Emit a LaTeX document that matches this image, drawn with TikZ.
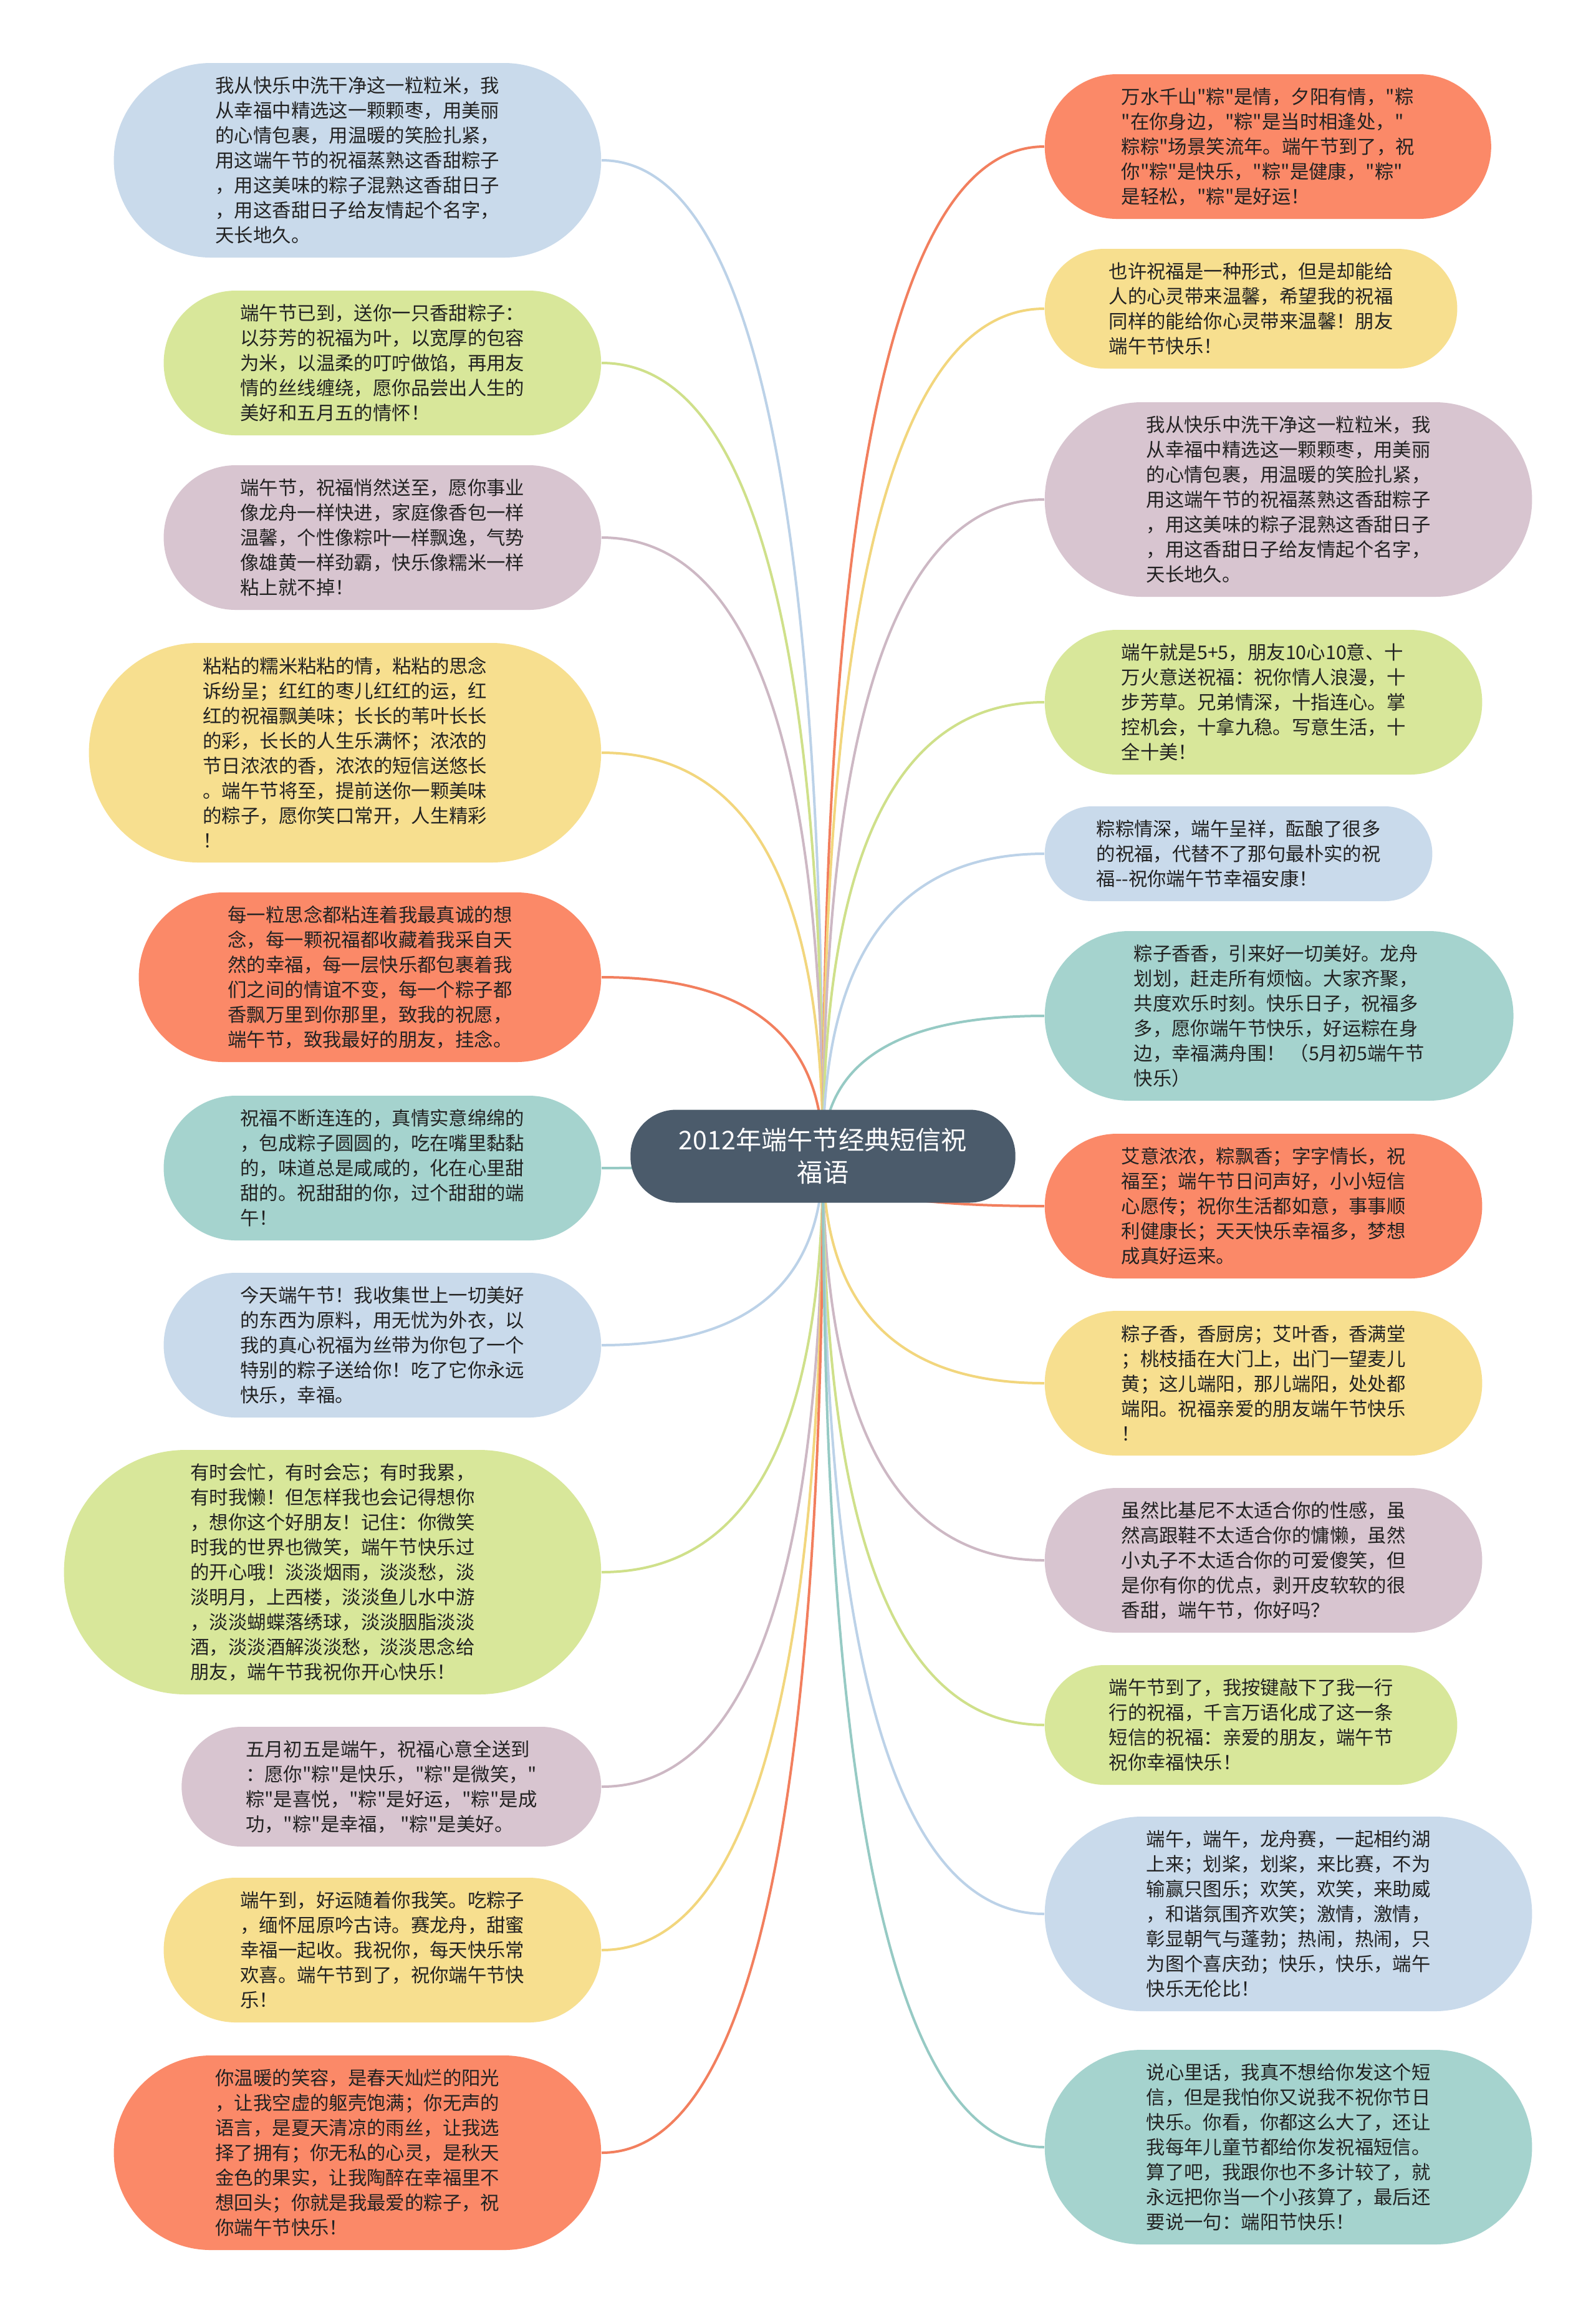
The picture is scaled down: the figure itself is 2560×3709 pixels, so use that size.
\documentclass[tikz,border=0pt]{standalone}
\usepackage{fontspec}
\newfontfamily\cjkfont{Noto Sans CJK SC}
\usetikzlibrary{calc}
\pgfdeclarelayer{bg}
\pgfsetlayers{bg,main}
\definecolor{cBlue}{HTML}{C9DAEB}
\definecolor{cGreen}{HTML}{D8E79A}
\definecolor{cMauve}{HTML}{D8C5D0}
\definecolor{cYellow}{HTML}{F7DF8F}
\definecolor{cOrange}{HTML}{FB8968}
\definecolor{cTeal}{HTML}{A5D3CE}
\definecolor{cCenter}{HTML}{4B5B6B}
\definecolor{lBlue}{HTML}{BCD2E8}
\definecolor{lGreen}{HTML}{CFE08A}
\definecolor{lMauve}{HTML}{CDB8C4}
\definecolor{lYellow}{HTML}{F2D67D}
\definecolor{lOrange}{HTML}{F27F5E}
\definecolor{lTeal}{HTML}{96CAC4}
\definecolor{txt}{HTML}{222222}
\newcommand\linkto[3]{%
  \draw[link,#1] (C.center) .. controls ($(C.center)!0.6667!(C.center|-#2.#3)$) and ($(#2.#3)!0.6667!(C.center|-#2.#3)$) .. (#2.#3);}
\begin{document}
\begin{tikzpicture}[x=0.25pt,y=-0.25pt,
  box/.style={rectangle, inner ysep=0pt, inner xsep={5pt*#1+5.7pt},
    minimum height={10pt*#1+8pt}, rounded corners={5pt*#1+3.9pt}, align=left,
    font=\cjkfont\fontsize{7.6}{10}\selectfont, text=txt},
  lbox/.style={box=#1, anchor=east},
  rbox/.style={box=#1, anchor=west},
  link/.style={line width=1pt},
  centerbox/.style={rectangle, inner xsep=19.4pt, inner ysep=0pt, minimum height=37.25pt,
    rounded corners=18.4pt, align=center,
    fill=cCenter, text=white, font=\cjkfont\fontsize{10.3}{13}\selectfont}]
\useasboundingbox (0,0) rectangle (2560,3709);

\node[centerbox] (C) at (1320,1854) {2012年端午节经典短信祝\\福语};

% left column
\node[lbox=7, fill=cBlue] (L1) at (965,257) {我从快乐中洗干净这一粒粒米，我\\从幸福中精选这一颗颗枣，用美丽\\的心情包裹，用温暖的笑脸扎紧，\\用这端午节的祝福蒸熟这香甜粽子\\，用这美味的粽子混熟这香甜日子\\，用这香甜日子给友情起个名字，\\天长地久。};
\node[lbox=5, fill=cGreen] (L2) at (965,582) {端午节已到，送你一只香甜粽子：\\以芬芳的祝福为叶，以宽厚的包容\\为米，以温柔的叮咛做馅，再用友\\情的丝线缠绕，愿你品尝出人生的\\美好和五月五的情怀！};
\node[lbox=5, fill=cMauve] (L3) at (965,862) {端午节，祝福悄然送至，愿你事业\\像龙舟一样快进，家庭像香包一样\\温馨，个性像粽叶一样飘逸，气势\\像雄黄一样劲霸，快乐像糯米一样\\粘上就不掉！};
\node[lbox=8, fill=cYellow] (L4) at (965,1207) {粘粘的糯米粘粘的情，粘粘的思念\\诉纷呈；红红的枣儿红红的运，红\\红的祝福飘美味；长长的苇叶长长\\的彩，长长的人生乐满怀；浓浓的\\节日浓浓的香，浓浓的短信送悠长\\。端午节将至，提前送你一颗美味\\的粽子，愿你笑口常开，人生精彩\\！};
\node[lbox=6, fill=cOrange] (L5) at (965,1567) {每一粒思念都粘连着我最真诚的想\\念，每一颗祝福都收藏着我采自天\\然的幸福，每一层快乐都包裹着我\\们之间的情谊不变，每一个粽子都\\香飘万里到你那里，致我的祝愿，\\端午节，致我最好的朋友，挂念。};
\node[lbox=5, fill=cTeal] (L6) at (965,1873) {祝福不断连连的，真情实意绵绵的\\，包成粽子圆圆的，吃在嘴里黏黏\\的，味道总是咸咸的，化在心里甜\\甜的。祝甜甜的你，过个甜甜的端\\午！};
\node[lbox=5, fill=cBlue] (L7) at (965,2157) {今天端午节！我收集世上一切美好\\的东西为原料，用无忧为外衣，以\\我的真心祝福为丝带为你包了一个\\特别的粽子送给你！吃了它你永远\\快乐，幸福。};
\node[lbox=9, fill=cGreen] (L8) at (965,2521) {有时会忙，有时会忘；有时我累，\\有时我懒！但怎样我也会记得想你\\，想你这个好朋友！记住：你微笑\\时我的世界也微笑，端午节快乐过\\的开心哦！淡淡烟雨，淡淡愁，淡\\淡明月，上西楼，淡淡鱼儿水中游\\，淡淡蝴蝶落绣球，淡淡胭脂淡淡\\酒，淡淡酒解淡淡愁，淡淡思念给\\朋友，端午节我祝你开心快乐！};
\node[lbox=4, fill=cMauve] (L9) at (965,2865) {五月初五是端午，祝福心意全送到\\：愿你"粽"是快乐，"粽"是微笑，"\\粽"是喜悦，"粽"是好运，"粽"是成\\功，"粽"是幸福， "粽"是美好。};
\node[lbox=5, fill=cYellow] (L10) at (965,3127) {端午到，好运随着你我笑。吃粽子\\，缅怀屈原吟古诗。赛龙舟，甜蜜\\幸福一起收。我祝你，每天快乐常\\欢喜。端午节到了，祝你端午节快\\乐！};
\node[lbox=7, fill=cOrange] (L11) at (965,3452) {你温暖的笑容，是春天灿烂的阳光\\，让我空虚的躯壳饱满；你无声的\\语言，是夏天清凉的雨丝，让我选\\择了拥有；你无私的心灵，是秋天\\金色的果实，让我陶醉在幸福里不\\想回头；你就是我最爱的粽子，祝\\你端午节快乐！};

% right column
\node[rbox=5, fill=cOrange] (R1) at (1675,235) {万水千山"粽"是情，夕阳有情，"粽\\"在你身边，"粽"是当时相逢处，"\\粽粽"场景笑流年。端午节到了，祝\\你"粽"是快乐，"粽"是健康，"粽"\\是轻松，"粽"是好运！};
\node[rbox=4, fill=cYellow] (R2) at (1675,495) {也许祝福是一种形式，但是却能给\\人的心灵带来温馨，希望我的祝福\\同样的能给你心灵带来温馨！朋友\\端午节快乐！};
\node[rbox=7, fill=cMauve] (R3) at (1675,801) {我从快乐中洗干净这一粒粒米，我\\从幸福中精选这一颗颗枣，用美丽\\的心情包裹，用温暖的笑脸扎紧，\\用这端午节的祝福蒸熟这香甜粽子\\，用这美味的粽子混熟这香甜日子\\，用这香甜日子给友情起个名字，\\天长地久。};
\node[rbox=5, fill=cGreen] (R4) at (1675,1126) {端午就是5+5，朋友10心10意、十\\万火意送祝福：祝你情人浪漫，十\\步芳草。兄弟情深，十指连心。掌\\控机会，十拿九稳。写意生活，十\\全十美！};
\node[rbox=3, fill=cBlue] (R5) at (1675,1369) {粽粽情深，端午呈祥，酝酿了很多\\的祝福，代替不了那句最朴实的祝\\福-\kern0pt-祝你端午节幸福安康！};
\node[rbox=6, fill=cTeal] (R6) at (1675,1629) {粽子香香，引来好一切美好。龙舟\\划划，赶走所有烦恼。大家齐聚，\\共度欢乐时刻。快乐日子，祝福多\\多，愿你端午节快乐，好运粽在身\\边，幸福满舟围！ （5月初5端午节\\快乐）};
\node[rbox=5, fill=cOrange] (R7) at (1675,1934) {艾意浓浓，粽飘香；字字情长，祝\\福至；端午节日问声好，小小短信\\心愿传；祝你生活都如意，事事顺\\利健康长；天天快乐幸福多，梦想\\成真好运来。};
\node[rbox=5, fill=cYellow] (R8) at (1675,2218) {粽子香，香厨房；艾叶香，香满堂\\；桃枝插在大门上，出门一望麦儿\\黄；这儿端阳，那儿端阳，处处都\\端阳。祝福亲爱的朋友端午节快乐\\！};
\node[rbox=5, fill=cMauve] (R9) at (1675,2502) {虽然比基尼不太适合你的性感，虽\\然高跟鞋不太适合你的慵懒，虽然\\小丸子不太适合你的可爱傻笑，但\\是你有你的优点，剥开皮软软的很\\香甜，端午节，你好吗？};
\node[rbox=4, fill=cGreen] (R10) at (1675,2766) {端午节到了，我按键敲下了我一行\\行的祝福，千言万语化成了这一条\\短信的祝福：亲爱的朋友，端午节\\祝你幸福快乐！};
\node[rbox=7, fill=cBlue] (R11) at (1675,3069) {端午，端午，龙舟赛，一起相约湖\\上来；划桨，划桨，来比赛，不为\\输赢只图乐；欢笑，欢笑，来助威\\，和谐氛围齐欢笑；激情，激情，\\彰显朝气与蓬勃；热闹，热闹，只\\为图个喜庆劲；快乐，快乐，端午\\快乐无伦比！};
\node[rbox=7, fill=cTeal] (R12) at (1675,3443) {说心里话，我真不想给你发这个短\\信，但是我怕你又说我不祝你节日\\快乐。你看，你都这么大了，还让\\我每年儿童节都给你发祝福短信。\\算了吧，我跟你也不多计较了，就\\永远把你当一个小孩算了，最后还\\要说一句：端阳节快乐！};

\begin{pgfonlayer}{bg}
\fill[white] (0,0) rectangle (2560,3709);
\linkto{lBlue}{L1}{east}
\linkto{lGreen}{L2}{east}
\linkto{lMauve}{L3}{east}
\linkto{lYellow}{L4}{east}
\linkto{lOrange}{L5}{east}
\linkto{lTeal}{L6}{east}
\linkto{lBlue}{L7}{east}
\linkto{lGreen}{L8}{east}
\linkto{lMauve}{L9}{east}
\linkto{lYellow}{L10}{east}
\linkto{lOrange}{L11}{east}
\linkto{lOrange}{R1}{west}
\linkto{lYellow}{R2}{west}
\linkto{lMauve}{R3}{west}
\linkto{lGreen}{R4}{west}
\linkto{lBlue}{R5}{west}
\linkto{lTeal}{R6}{west}
\linkto{lOrange}{R7}{west}
\linkto{lYellow}{R8}{west}
\linkto{lMauve}{R9}{west}
\linkto{lGreen}{R10}{west}
\linkto{lBlue}{R11}{west}
\linkto{lTeal}{R12}{west}
\end{pgfonlayer}
\end{tikzpicture}
\end{document}
